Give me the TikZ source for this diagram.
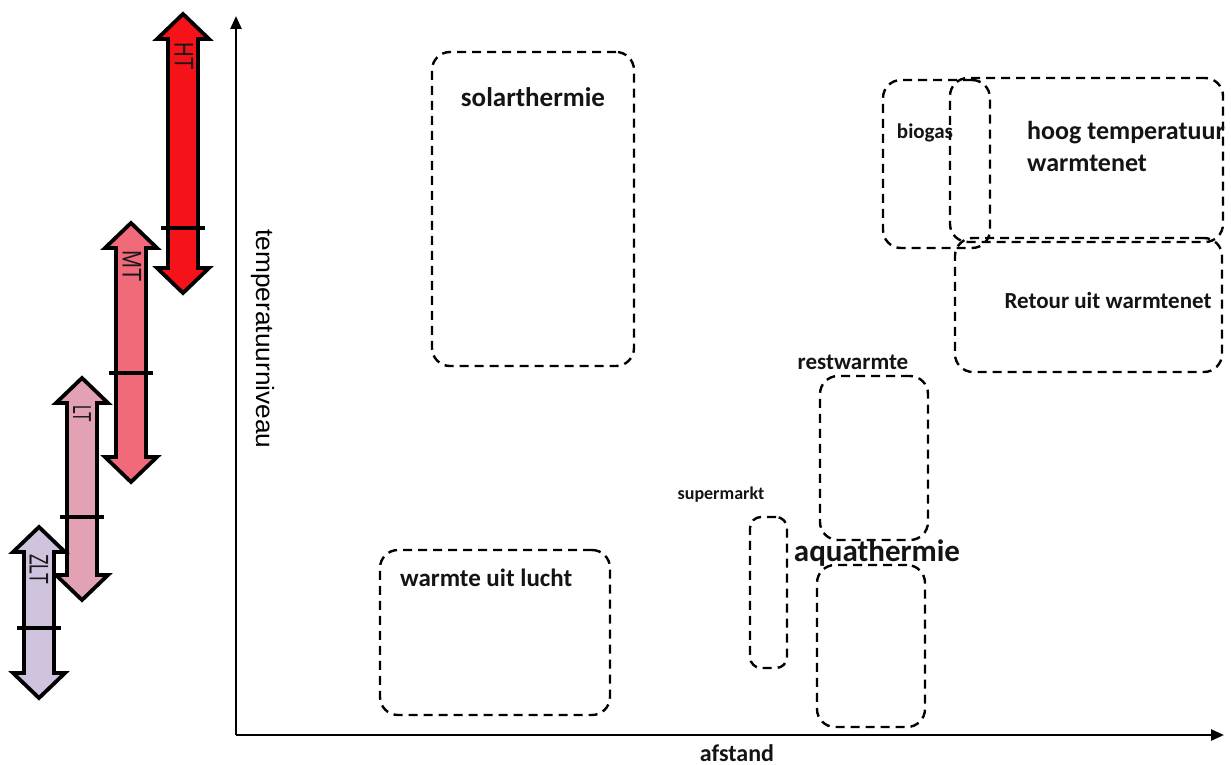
\documentclass[tikz,border=0pt]{standalone}
\usepackage{fontspec}
\setmainfont{Carlito}
\newfontfamily\arialfont{Liberation Sans}
\usetikzlibrary{arrows.meta,fit}

\definecolor{htred}{RGB}{245,18,25}
\definecolor{mtred}{RGB}{240,106,122}
\definecolor{ltpink}{RGB}{226,162,180}
\definecolor{zltlav}{RGB}{207,195,222}

% double-headed temperature band: centre x, top tip y, bottom tip y, tick y, fill
\newcommand\tband[5]{%
  \draw[band, fill=#5] (#1,-#2) -- ++(26,-25) -- ++(-11,0) -- (#1+15,-#3+25)
    -- ++(11,0) -- (#1,-#3) -- ++(-26,25) -- ++(11,0) -- (#1-15,-#2-25)
    -- ++(-11,0) -- cycle;
  \draw[tickline] (#1-22,-#4) -- (#1+22,-#4);}

\newcommand\fs[1]{\fontsize{#1}{#1}\selectfont}

\begin{document}
\begin{tikzpicture}[x=1pt,y=1pt,
  zone/.style={draw, line width=2.4pt, dash pattern=on 9pt off 6pt,
    rounded corners=18pt, inner sep=0pt},
  smallzone/.style={zone, rounded corners=11pt},
  lbl/.style={font=\bfseries, inner sep=0pt, text=black!92},
  axis/.style={line width=2.6pt, -{Triangle[length=13pt,width=11pt]}},
  band/.style={line width=3.8pt, line join=miter},
  tickline/.style={line width=4pt},
  bandlbl/.style={inner sep=0pt, rotate=-90, font=\arialfont, text=black!90}]
\useasboundingbox (0,-765) rectangle (1231,0);

% axes
\coordinate (origin) at (236,-735);
\coordinate (ytop) at (236,-16);
\coordinate (xend) at (1224,-735);
\draw[axis] (origin) -- (ytop);
\draw[axis] (origin) -- (xend);
\node[inner sep=0pt, rotate=-90, font=\arialfont\fs{25}, text=black] (ylab) at (263,-339)
  {\scalebox{1.05}[1]{temperatuurniveau}};
\node[lbl, font=\bfseries\fs{24}, anchor=base] (xlab) at (737,-761) {afstand};

% temperature bands
\tband{183}{14}{293}{228}{htred}
\tband{131}{223}{482}{373}{mtred}
\tband{82}{378}{600}{517}{ltpink}
\tband{39}{527}{698}{628}{zltlav}
\node[bandlbl, font=\arialfont\fs{27}] (ht) at (184,-56) {\scalebox{0.75}[1]{HT}};
\node[bandlbl, font=\arialfont\fs{27}] (mt) at (132,-266) {\scalebox{0.8}[1]{MT}};
\node[bandlbl, font=\arialfont\fs{26}] (lt) at (82,-414) {\scalebox{0.6}[1]{LT}};
\node[bandlbl, font=\arialfont\fs{27}] (zlt) at (39,-569) {\scalebox{0.65}[1]{ZLT}};

% heat source zones
\node[zone, fit={(432,-52) (634,-366)}] (solar) {};
\node[zone, fit={(380,-550) (610,-715)}] (lucht) {};
\node[smallzone, fit={(750,-517) (787,-668)}] (super) {};
\node[zone, fit={(820,-376) (928,-540)}] (rest) {};
\node[zone, fit={(817,-565) (925,-727)}] (aqua) {};
\node[zone, fit={(883,-80) (990,-248)}] (biogas) {};
\node[zone, fit={(950,-78) (1223,-242)}] (htw) {};
\node[zone, fit={(955,-238) (1222,-372)}] (retour) {};

% zone labels
\node[lbl, font=\bfseries\fs{27}] (solarlbl) at (533,-97) {solarthermie};
\node[lbl, font=\bfseries\fs{25}, anchor=west] (luchtlbl) at (400,-578) {warmte uit lucht};
\node[lbl, font=\bfseries\fs{18}] (superlbl) at (721,-495) {supermarkt};
\node[lbl, font=\bfseries\fs{23}] (restlbl) at (853,-362) {restwarmte};
\node[lbl, font=\bfseries\fs{31}] (aqualbl) at (877,-553) {aquathermie};
\node[lbl, font=\bfseries\fs{21}] (biogaslbl) at (925,-133) {biogas};
\node[lbl, font=\bfseries\fs{26}, anchor=west] (htwlbl1) at (1027,-133) {hoog temperatuur};
\node[lbl, font=\bfseries\fs{26}, anchor=west] (htwlbl2) at (1027,-163) {warmtenet};
\node[lbl, font=\bfseries\fs{23}] (retourlbl) at (1108,-301) {Retour uit warmtenet};
\end{tikzpicture}
\end{document}
